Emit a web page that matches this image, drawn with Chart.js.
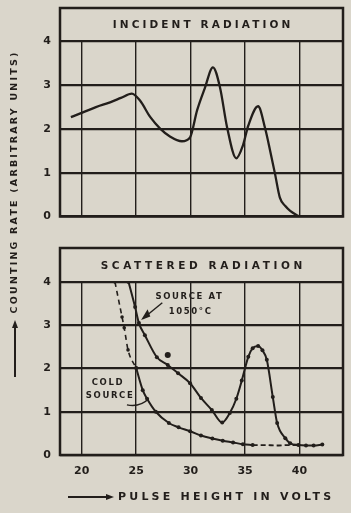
<!DOCTYPE html>
<html>
<head>
<meta charset="utf-8">
<script src="https://cdn.jsdelivr.net/npm/chart.js@4"></script>
<style>
  html, body { margin: 0; padding: 0; background: #dad6cb; }
  #wrap { position: relative; width: 351px; height: 513px; }
  canvas { position: absolute; left: 0; top: 0; }
</style>
</head>
<body>
<div id="wrap">
  <canvas id="incidentChart" width="351" height="513"></canvas>
  <canvas id="scatteredChart" width="351" height="513"></canvas>
</div>
<script>
// axis ticks
const voltTicks = [20, 25, 30, 35, 40];
const rateTicks = [0, 1, 2, 3, 4];

// incident radiation
const incidentVolts = [19.0, 20.1, 21.3, 22.6, 23.6, 24.6, 25.35, 26.3, 27.2, 28.1, 29.2, 29.95, 30.6, 31.3, 32.05, 32.7, 33.35, 34.2, 34.8, 35.3, 36.2, 36.85, 37.3, 37.75, 38.2, 38.7, 39.15, 39.9];
const incidentRate = [2.27, 2.38, 2.5, 2.61, 2.71, 2.81, 2.65, 2.27, 2.01, 1.83, 1.72, 1.81, 2.43, 2.93, 3.41, 2.95, 2.04, 1.33, 1.62, 2.08, 2.52, 2.01, 1.51, 0.98, 0.43, 0.24, 0.13, 0.01];

// scattered radiation, source at 1050 C
const hotVolts = [24.3, 24.9, 25.25, 25.8, 26.9, 27.9, 28.85, 29.95, 30.95, 31.95, 32.9, 33.6, 34.2, 34.7, 35.3, 35.7, 36.2, 36.6, 37.0, 37.55, 37.95, 38.7, 39.15, 39.9, 40.6, 41.3, 42.1];
const hotRate = [4.0, 3.42, 3.05, 2.77, 2.26, 2.08, 1.89, 1.66, 1.32, 1.04, 0.75, 0.97, 1.3, 1.72, 2.27, 2.47, 2.52, 2.42, 2.2, 1.34, 0.74, 0.39, 0.27, 0.23, 0.22, 0.22, 0.24];
const hotStrayVolts = [27.9];
const hotStrayRate = [2.31];

// scattered radiation, cold source
const coldVolts = [25.0, 25.6, 26.0, 26.8, 28.0, 28.9, 29.95, 30.95, 32.0, 32.95, 33.9, 34.8, 35.7];
const coldRate = [2.01, 1.5, 1.3, 1.0, 0.74, 0.64, 0.55, 0.45, 0.38, 0.33, 0.29, 0.25, 0.23];
const coldHighVolts = [23.05, 23.7, 23.9, 24.25, 25.0];
const coldHighRate = [4.0, 3.19, 2.94, 2.43, 2.01];
const coldLowVolts = [35.7, 36.8, 37.9, 38.9, 39.9];
const coldLowRate = [0.23, 0.23, 0.22, 0.23, 0.23];

const ink = "#221e1b";
const boldFont = (size) => ({ family: "DejaVu Sans", weight: "bold", size: size });

function pts(xs, ys) {
    return xs.map((x, i) => ({ x: x, y: ys[i] }));
}

function makeScales(showX) {
    return {
        x: {
            type: "linear", min: 18, max: 44,
            afterBuildTicks: s => { s.ticks = voltTicks.map(v => ({ value: v })); },
            afterFit: s => { s.height = showX ? 30 : 0; },
            grid: { color: ink, lineWidth: 1.4, drawTicks: false },
            border: { display: false },
            ticks: { display: showX, color: ink, padding: 10, font: boldFont(11) }
        },
        y: {
            type: "linear", min: 0, max: 4,
            afterBuildTicks: s => { s.ticks = rateTicks.map(v => ({ value: v })); },
            afterFit: s => { s.width = 60; },
            grid: { color: ink, lineWidth: 2.2, drawTicks: false },
            border: { display: false },
            ticks: { color: ink, padding: 9, font: boldFont(11) }
        }
    };
}

// box with the title band on top of each plot
const framePlugin = {
    id: "frame",
    afterDraw(chart, args, opts) {
        const { ctx, chartArea: a } = chart;
        ctx.save();
        ctx.strokeStyle = ink;
        ctx.lineWidth = 2.5;
        ctx.strokeRect(a.left, a.top - opts.band, a.right - a.left, a.bottom - a.top + opts.band);
        ctx.fillStyle = ink;
        ctx.font = "bold 10.5px 'DejaVu Sans'";
        ctx.letterSpacing = opts.spacing + "px";
        ctx.textAlign = "center";
        ctx.textBaseline = "middle";
        ctx.fillText(opts.title, (a.left + a.right) / 2 + opts.spacing / 2, a.top - opts.band / 2 + 1);
        ctx.restore();
    }
};

function arrowHead(ctx, x, y, dir) {
    ctx.beginPath();
    if (dir === "up") {
        ctx.moveTo(x, y); ctx.lineTo(x - 3, y + 8); ctx.lineTo(x + 3, y + 8);
    } else {
        ctx.moveTo(x, y); ctx.lineTo(x - 8, y - 3); ctx.lineTo(x - 8, y + 3);
    }
    ctx.closePath();
    ctx.fill();
}

const yTitlePlugin = {
    id: "yTitle",
    afterDraw(chart) {
        const ctx = chart.ctx;
        ctx.save();
        ctx.fillStyle = ink;
        ctx.strokeStyle = ink;
        ctx.lineWidth = 2;
        ctx.beginPath();
        ctx.moveTo(15, 377);
        ctx.lineTo(15, 326);
        ctx.stroke();
        arrowHead(ctx, 15, 320, "up");
        ctx.translate(15, 182);
        ctx.rotate(-Math.PI / 2);
        ctx.font = "bold 9.5px 'DejaVu Sans'";
        ctx.letterSpacing = "2.2px";
        ctx.textAlign = "center";
        ctx.textBaseline = "middle";
        ctx.fillText("COUNTING RATE (ARBITRARY UNITS)", 0, 0);
        ctx.restore();
    }
};

const xTitlePlugin = {
    id: "xTitle",
    afterDraw(chart) {
        const ctx = chart.ctx;
        ctx.save();
        ctx.fillStyle = ink;
        ctx.strokeStyle = ink;
        ctx.lineWidth = 2;
        ctx.beginPath();
        ctx.moveTo(68, 497);
        ctx.lineTo(106, 497);
        ctx.stroke();
        arrowHead(ctx, 114, 497, "right");
        ctx.font = "bold 11px 'DejaVu Sans'";
        ctx.letterSpacing = "3.2px";
        ctx.textAlign = "left";
        ctx.textBaseline = "middle";
        ctx.fillText("PULSE HEIGHT IN VOLTS", 118, 497);
        ctx.restore();
    }
};

// curve labels, placed in data units
const notePlugin = {
    id: "notes",
    afterDatasetsDraw(chart) {
        const { ctx, scales: { x, y } } = chart;
        const px = v => x.getPixelForValue(v);
        const py = v => y.getPixelForValue(v);
        ctx.save();
        ctx.fillStyle = ink;
        ctx.strokeStyle = ink;
        ctx.font = "bold 8.5px 'DejaVu Sans'";
        ctx.letterSpacing = "1.6px";
        ctx.textAlign = "center";
        ctx.textBaseline = "middle";
        ctx.fillText("SOURCE AT", px(29.9), py(3.65));
        ctx.fillText("1050°C", px(30.0), py(3.31));
        ctx.fillText("COLD", px(22.4), py(1.66));
        ctx.fillText("SOURCE", px(22.6), py(1.36));

        ctx.lineWidth = 1.4;
        ctx.beginPath();
        ctx.moveTo(px(27.4), py(3.52));
        ctx.lineTo(px(25.6), py(3.15));
        ctx.stroke();
        ctx.beginPath();
        ctx.moveTo(px(25.45), py(3.12));
        ctx.lineTo(px(26.05), py(3.37));
        ctx.lineTo(px(26.3), py(3.2));
        ctx.closePath();
        ctx.fill();

        ctx.beginPath();
        ctx.moveTo(px(24.15), py(1.16));
        ctx.quadraticCurveTo(px(25.35), py(1.1), px(26.15), py(1.3));
        ctx.stroke();
        ctx.restore();
    }
};

const lineStyle = {
    borderColor: ink,
    backgroundColor: ink,
    borderWidth: 2,
    fill: false,
    cubicInterpolationMode: "monotone",
    pointBorderWidth: 0,
    pointBackgroundColor: ink
};

const commonOptions = {
    responsive: false,
    animation: false,
    events: [],
    plugins: { legend: { display: false }, tooltip: { enabled: false } }
};

new Chart(document.getElementById("incidentChart"), {
    type: "line",
    data: {
        datasets: [{
            ...lineStyle,
            label: "Incident radiation",
            data: pts(incidentVolts, incidentRate),
            borderWidth: 2.3,
            pointRadius: 0
        }]
    },
    options: {
        ...commonOptions,
        layout: { padding: { left: 0, right: 8, top: 41.5, bottom: 296.5 } },
        scales: makeScales(false),
        plugins: {
            ...commonOptions.plugins,
            frame: { title: "INCIDENT RADIATION", band: 33.5, spacing: 3.1 }
        }
    },
    plugins: [framePlugin, yTitlePlugin]
});

new Chart(document.getElementById("scatteredChart"), {
    type: "line",
    data: {
        datasets: [
            { ...lineStyle, label: "Source at 1050°C", data: pts(hotVolts, hotRate), pointRadius: 2 },
            { ...lineStyle, label: "Source at 1050°C (stray)", data: pts(hotStrayVolts, hotStrayRate), showLine: false, pointRadius: 3 },
            { ...lineStyle, label: "Cold source", data: pts(coldVolts, coldRate), pointRadius: 2 },
            { ...lineStyle, label: "Cold source (extrapolated)", data: pts(coldHighVolts, coldHighRate), borderWidth: 1.6, borderDash: [5, 4], pointRadius: 1.8 },
            { ...lineStyle, label: "Cold source (merged)", data: pts(coldLowVolts, coldLowRate), borderWidth: 1.8, borderDash: [5, 3], pointRadius: 0 }
        ]
    },
    options: {
        ...commonOptions,
        layout: { padding: { left: 0, right: 8, top: 282, bottom: 28 } },
        scales: makeScales(true),
        plugins: {
            ...commonOptions.plugins,
            frame: { title: "SCATTERED RADIATION", band: 34, spacing: 3.6 }
        }
    },
    plugins: [framePlugin, xTitlePlugin, notePlugin]
});
</script>
</body>
</html>
